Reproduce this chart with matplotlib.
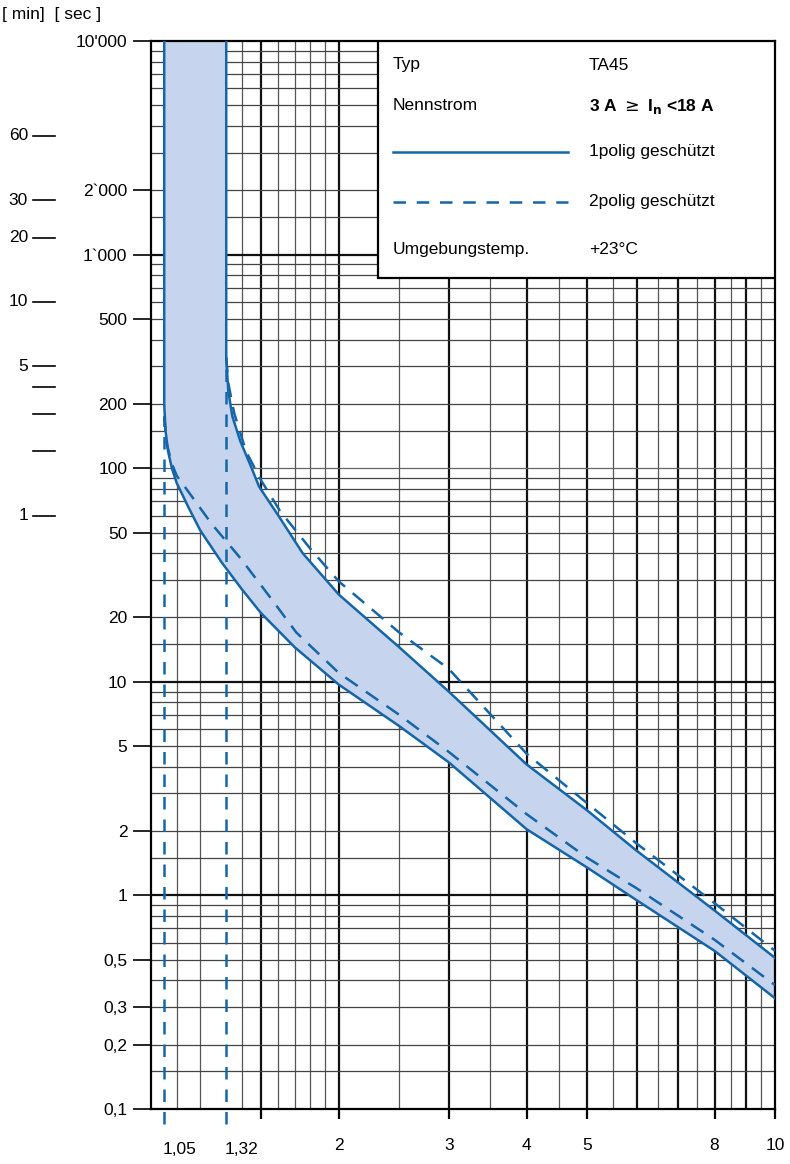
import numpy as np
import matplotlib
matplotlib.use("Agg")
import matplotlib.pyplot as plt
import matplotlib.transforms as mtransforms

plt.rcParams["font.family"] = "Liberation Sans"

# ---- data ----
lower_solid_x = [1.05, 1.05, 1.055, 1.065, 1.08, 1.10, 1.15, 1.20, 1.30, 1.40, 1.50,
                 1.70, 2.0, 2.5, 3.0, 4.0, 5.0, 6.0, 8.0, 10.0]
lower_solid_t = [10000, 200, 150, 120, 100, 85, 65, 51, 36, 27, 21,
                 14.5, 9.7, 6.2, 4.2, 2.04, 1.35, 0.95, 0.55, 0.33]
lower_dash_x = [1.05, 1.06, 1.08, 1.10, 1.154, 1.25, 1.39, 1.55, 1.71, 2.0, 2.5,
                3.0, 4.0, 5.0, 6.0, 8.0, 10.0]
lower_dash_t = [175, 130, 105, 92, 76, 55, 38, 25, 17, 11, 7,
                4.7, 2.4, 1.5, 1.08, 0.62, 0.38]
upper_solid_x = [1.32, 1.32, 1.33, 1.35, 1.39, 1.45, 1.49, 1.6, 1.75, 2.0, 2.5,
                 3.0, 4.0, 5.0, 6.0, 8.0, 10.0]
upper_solid_t = [10000, 330, 230, 175, 134, 100, 82, 60, 40, 25.6, 14.5,
                 9.0, 4.1, 2.5, 1.62, 0.85, 0.51]
upper_dash_x = [1.32, 1.33, 1.36, 1.42, 1.5, 1.61, 1.8, 2.0, 2.5, 3.0, 4.0,
                5.0, 6.0, 8.0, 10.0]
upper_dash_t = [330, 250, 180, 120, 88, 63, 42, 29.5, 17, 11.5, 4.6,
                2.7, 1.75, 0.92, 0.55]
vdash_x = [1.05, 1.32]
vdash_top = [175, 330]

sec_ticks = [10000, 2000, 1000, 500, 200, 100, 50, 20, 10, 5, 2, 1, 0.5, 0.3, 0.2, 0.1]
sec_labels = ["10'000", "2`000", "1`000", "500", "200", "100", "50", "20", "10",
              "5", "2", "1", "0,5", "0,3", "0,2", "0,1"]
min_ticks = [60, 30, 20, 10, 5, 4, 3, 2, 1]
min_labels = ["60", "30", "20", "10", "5", "", "", "", "1"]
x_ticks = [1.5, 2, 3, 4, 5, 8, 10]
x_labels = ["", "2", "3", "4", "5", "8", "10"]
x_special = [1.05, 1.32]
x_special_labels = ["1,05", "1,32"]

blue = "#1466a8"
fillc = "#c6d4ee"
FS = 12.5

fig = plt.figure(figsize=(7.9, 11.64), dpi=100)
ax = fig.add_axes([151/790, 1 - 1109/1164, 624/790, 1068/1164])
ax.set_xscale("log")
ax.set_yscale("log")
ax.set_xlim(1, 10)
ax.set_ylim(0.1, 10000)

# grid
vx = [1.1, 1.2, 1.4, 1.6, 1.7, 1.8, 1.9] + [2.5, 3.5, 4.5, 5.5, 6.5, 7.5, 8.5, 9.5]
for v in vx:
    ax.axvline(v, color="#555555", lw=0.9, zorder=1)
for v in [1.5, 2, 3, 4, 5, 6, 7, 8, 9]:
    ax.axvline(v, color="#111111", lw=1.6, zorder=1)
for dec in [0.1, 1, 10, 100, 1000]:
    for m in [1.5, 2, 3, 4, 5, 6, 7, 8, 9]:
        ax.axhline(dec * m, color="#444444", lw=0.9, zorder=1)
ax.axhline(100, color="#666666", lw=0.9, zorder=1)
for v in [1, 10, 1000]:
    ax.axhline(v, color="#111111", lw=1.6, zorder=1)
for s in ax.spines.values():
    s.set_linewidth(1.6)

# band
poly_x = lower_solid_x + upper_solid_x[::-1]
poly_t = lower_solid_t + upper_solid_t[::-1]
ax.fill(poly_x, poly_t, color=fillc, lw=0, zorder=2)

ax.plot(lower_solid_x, lower_solid_t, color=blue, lw=1.8, zorder=3)
ax.plot(upper_solid_x, upper_solid_t, color=blue, lw=1.8, zorder=3)
ax.plot(lower_dash_x, lower_dash_t, color=blue, lw=1.8, ls=(0, (6, 4)), zorder=3)
ax.plot(upper_dash_x, upper_dash_t, color=blue, lw=1.8, ls=(0, (6, 4)), zorder=3)
for xv, top in zip(vdash_x, vdash_top):
    ax.plot([xv, xv], [0.085, top], color=blue, lw=1.8, ls=(0, (5, 4)),
            zorder=3, clip_on=False)

# ticks
ax.set_yticks(sec_ticks)
ax.set_yticklabels(sec_labels, fontsize=FS)
ax.yaxis.set_minor_locator(matplotlib.ticker.NullLocator())
ax.tick_params(axis="y", length=13, width=1.2, pad=4)
ax.set_xticks(x_ticks)
ax.set_xticklabels(x_labels, fontsize=FS)
ax.xaxis.set_minor_locator(matplotlib.ticker.NullLocator())
ax.tick_params(axis="x", length=7, width=1.6, pad=14, direction="out")
for xv, lab in zip(x_special, x_special_labels):
    ax.annotate(lab, (xv, 0), xycoords=("data", "axes fraction"),
                xytext=(11, -24), textcoords="offset points",
                ha="center", va="top", fontsize=FS)

# minutes axis
trans = mtransforms.blended_transform_factory(ax.transAxes, ax.transData)
for m, lab in zip(min_ticks, min_labels):
    t = m * 60
    ax.plot([-0.189, -0.154], [t, t], color="black", lw=1.2,
            transform=trans, clip_on=False)
    if lab:
        ax.text(-0.197, t, lab, transform=trans, ha="right", va="center", fontsize=FS)
fig.text(2/790, 1 - 15/1164, "[ min]  [ sec ]", fontsize=FS, va="center", ha="left")

# legend box
def ax_xy(px, py):
    return ((px - 151) / 624, (1109 - py) / 1068)

x0, y0 = ax_xy(378, 278)
x1, y1 = ax_xy(775, 41)
ax.add_patch(plt.Rectangle((x0, y0), x1 - x0, y1 - y0, transform=ax.transAxes,
                           facecolor="white", edgecolor="black", lw=1.6, zorder=5))
def t(px, py, s, **kw):
    xx, yy = ax_xy(px, py)
    ax.text(xx, yy, s, transform=ax.transAxes, fontsize=FS, va="center",
            ha="left", zorder=6, **kw)
t(393, 65, "Typ")
t(589, 65, "TA45")
t(393, 106, "Nennstrom")
t(589, 106, r"3 A $\geq$ I$_\mathbf{n}$ <18 A", fontweight="bold")
t(589, 152, "1polig geschützt")
t(589, 202, "2polig geschützt")
t(393, 250, "Umgebungstemp.")
t(589, 250, "+23°C")
for py, ls in [(152, "-"), (202, (0, (5, 4.3)))]:
    a, b = ax_xy(393, py)
    c, _ = ax_xy(568, py)
    ax.plot([a, c], [b, b], transform=ax.transAxes, color=blue, lw=1.8,
            ls=ls, zorder=6)

fig.savefig("out.png", dpi=100)
